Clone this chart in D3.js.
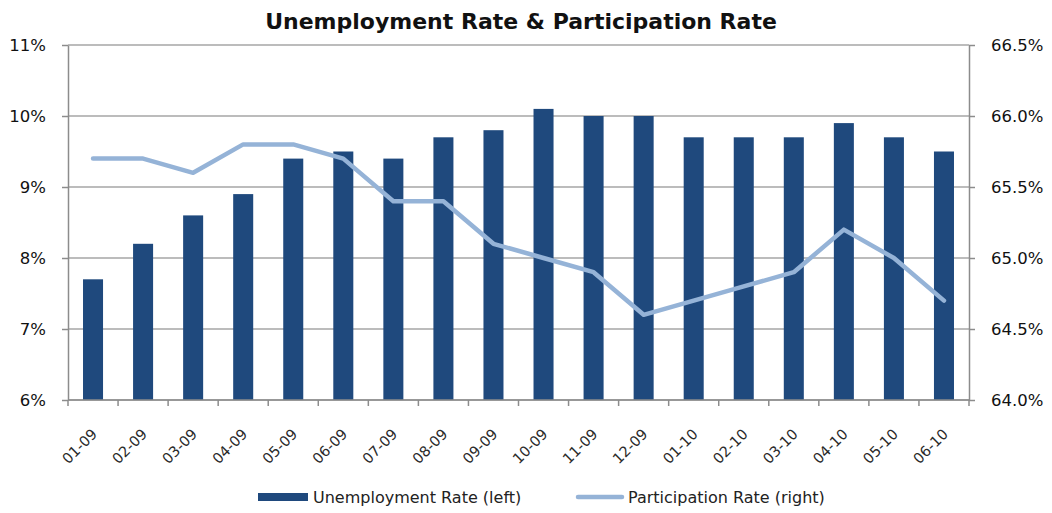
<!DOCTYPE html>
<html><head><meta charset="utf-8">
<script src="https://cdn.jsdelivr.net/npm/d3@7"></script>
<style>body{margin:0;background:#fff}svg{display:block}</style>
</head><body>
<svg id="c" width="1052" height="513"></svg>
<script>
const categories = ["01-09","02-09","03-09","04-09","05-09","06-09","07-09","08-09","09-09","10-09","11-09","12-09","01-10","02-10","03-10","04-10","05-10","06-10"];
const unemployment = [7.7,8.2,8.6,8.9,9.4,9.5,9.4,9.7,9.8,10.1,10.0,10.0,9.7,9.7,9.7,9.9,9.7,9.5];
const participation = [65.7,65.7,65.6,65.8,65.8,65.7,65.4,65.4,65.1,65.0,64.9,64.6,64.7,64.8,64.9,65.2,65.0,64.7];
const leftTicks = [6,7,8,9,10,11];
const rightTicks = [64.0,64.5,65.0,65.5,66.0,66.5];
const title = "Unemployment Rate & Participation Rate";
const legendLabels = ["Unemployment Rate (left)","Participation Rate (right)"];

const svg = d3.select("#c");
const L = 68, R = 969, T = 45, B = 400;
const font = "DejaVu Sans";
const barColor = "#1f497d", lineColor = "#95b3d7", gridColor = "#a6a6a6";

const xb = d3.scaleBand().domain(categories).range([L, R]);
const yL = d3.scaleLinear().domain([6, 11]).range([B, T]);
const yR = d3.scaleLinear().domain([64, 66.5]).range([B, T]);

// gridlines
svg.append("g").selectAll("line").data(leftTicks).join("line")
  .attr("x1", L).attr("x2", R).attr("y1", d => yL(d)).attr("y2", d => yL(d))
  .attr("stroke", gridColor).attr("stroke-width", 1.5);

// bars
svg.append("g").selectAll("rect").data(unemployment).join("rect")
  .attr("x", (d, i) => xb(categories[i]) + xb.bandwidth() * 0.3)
  .attr("width", xb.bandwidth() * 0.4)
  .attr("y", d => yL(d)).attr("height", d => B - yL(d))
  .attr("fill", barColor);

// line
const line = d3.line().x((d, i) => xb(categories[i]) + xb.bandwidth() / 2).y(d => yR(d));
svg.append("path").datum(participation).attr("d", line)
  .attr("fill", "none").attr("stroke", lineColor).attr("stroke-width", 4.5)
  .attr("stroke-linejoin", "round").attr("stroke-linecap", "round");

// axes
const axL = svg.append("g").attr("transform", `translate(${L},0)`)
  .call(d3.axisLeft(yL).tickValues(leftTicks).tickFormat(d => d + "%").tickSize(6).tickSizeOuter(0));
const axR = svg.append("g").attr("transform", `translate(${R},0)`)
  .call(d3.axisRight(yR).tickValues(rightTicks).tickFormat(d => d3.format(".1f")(d) + "%").tickSize(6).tickSizeOuter(0));
const xTickVals = categories.map(c => xb(c)).concat([R]);
const axX = svg.append("g").attr("transform", `translate(0,${B})`);
axX.append("line").attr("x1", L).attr("x2", R).attr("y1", 0).attr("y2", 0);
axX.selectAll("line.t").data(xTickVals).join("line").attr("class","t")
  .attr("x1", d => d).attr("x2", d => d).attr("y1", 0).attr("y2", 6);
axX.selectAll("line").attr("stroke", "#8c8c8c").attr("stroke-width", 1.5);
axX.selectAll("text").data(categories).join("text")
  .attr("transform", d => `translate(${xb(d) + xb.bandwidth()/2 + 5},${35}) rotate(-45)`)
  .attr("text-anchor", "end").attr("font-family", font).attr("font-size", 14.5)
  .attr("fill", "#2a2a2a").text(d => d);

[axL, axR].forEach(a => {
  a.selectAll("path, line").attr("stroke", "#8c8c8c").attr("stroke-width", 1.5);
  a.selectAll("text").attr("font-family", font).attr("font-size", 16.5).attr("fill", "#111");
});
axL.selectAll("text").attr("x", -22);
axR.selectAll("text").attr("x", 22);

// title
svg.append("text").attr("x", 521).attr("y", 29).attr("text-anchor", "middle")
  .attr("font-family", font).attr("font-size", 22).attr("font-weight", "bold").attr("fill", "#111")
  .text(title);

// legend
const lg = svg.append("g");
lg.append("rect").attr("x", 258).attr("y", 493).attr("width", 50).attr("height", 8).attr("fill", barColor);
lg.append("text").attr("x", 313).attr("y", 503).attr("font-family", font).attr("font-size", 16).attr("fill", "#222").text(legendLabels[0]);
lg.append("line").attr("x1", 578).attr("x2", 622).attr("y1", 497).attr("y2", 497)
  .attr("stroke", lineColor).attr("stroke-width", 4.5).attr("stroke-linecap", "round");
lg.append("text").attr("x", 628).attr("y", 503).attr("font-family", font).attr("font-size", 16).attr("fill", "#222").text(legendLabels[1]);
</script>
</body></html>
